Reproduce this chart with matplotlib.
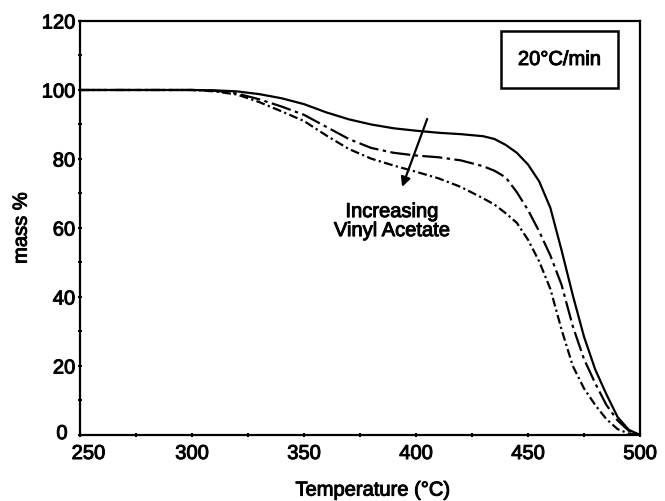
import matplotlib
matplotlib.use("Agg")
import matplotlib.pyplot as plt
from matplotlib.ticker import MultipleLocator, FuncFormatter
from matplotlib.patches import Rectangle
import matplotlib.patheffects as pe

plt.rcParams['font.family'] = ['Liberation Sans', 'DejaVu Sans']

temperature = [250, 300, 310, 320, 330, 340, 350, 360, 370, 380, 390, 400, 410, 420,
               430, 435, 440, 445, 450, 455, 460, 465, 470, 475, 480, 485, 490, 495, 500]
mass_low_va = [100, 100, 99.9, 99.6, 98.8, 97.6, 95.9, 93.5, 91.5, 90.0, 88.9, 88.2, 87.6, 87.2,
               86.6, 85.8, 84.1, 81.8, 78.4, 73.5, 65.8, 53.5, 40.5, 28.5, 19.0, 11.8, 5.2, 1.5, 0.0]
mass_mid_va = [100, 100, 99.8, 99.0, 97.3, 95.2, 92.8, 89.3, 85.8, 83.2, 81.8, 81.0, 80.5, 79.6,
               77.9, 76.6, 74.7, 70.4, 65.2, 59.0, 52.0, 43.5, 31.5, 22.0, 15.0, 8.7, 4.2, 1.2, 0.0]
mass_high_va = [100, 100, 99.6, 98.7, 96.5, 93.8, 91.0, 86.8, 82.9, 80.1, 78.1, 76.3, 74.4, 71.9,
                68.6, 66.8, 64.3, 61.5, 56.6, 50.3, 42.3, 30.5, 20.0, 13.5, 8.7, 4.6, 1.7, 0.4, 0.0]

x_min, x_max = 250, 500
y_min, y_max = 0, 120

fig = plt.figure(figsize=(6.65, 5.02), dpi=100)
ax = fig.add_axes([0.1203, 0.1315, 0.8421, 0.8247])

ax.plot(temperature, mass_low_va, color='black', lw=1.6, ls='-')
ax.plot(temperature, mass_mid_va, color='black', lw=1.6, ls=(0, (9, 2, 1.5, 2)))
ax.plot(temperature, mass_high_va, color='black', lw=1.6, ls=(0, (4, 1.5, 1, 1.5)))

ax.set_xlim(x_min, x_max)
ax.set_ylim(y_min, y_max)
ax.xaxis.set_major_locator(MultipleLocator(50))
ax.xaxis.set_minor_locator(MultipleLocator(25))
ax.yaxis.set_major_locator(MultipleLocator(20))
ax.yaxis.set_minor_locator(MultipleLocator(10))
# the corner labels (250 and 0) are drawn separately, nudged apart as in the original
ax.xaxis.set_major_formatter(FuncFormatter(lambda v, p: '' if abs(v - x_min) < 1e-9 else f'{v:g}'))
ax.yaxis.set_major_formatter(FuncFormatter(lambda v, p: '' if abs(v - y_min) < 1e-9 else f'{v:g}'))
ax.tick_params(which='both', direction='inout', length=3, width=1.5, labelsize=14.5, pad=2)
ax.tick_params(axis='x', pad=5)
for s in ax.spines.values():
    s.set_linewidth(1.6)

thick = [pe.withStroke(linewidth=0.7, foreground='black')]

for lab in ax.get_xticklabels() + ax.get_yticklabels():
    lab.set_path_effects(thick)

ax.annotate(f'{x_min:g}', xy=(x_min, 0), xycoords=('data', 'axes fraction'),
            xytext=(6, -6.5), textcoords='offset points', ha='center', va='top',
            fontsize=14.5, path_effects=thick)
ax.annotate(f'{y_min:g}', xy=(0, y_min), xycoords=('axes fraction', 'data'),
            xytext=(-9, 1), textcoords='offset points', ha='right', va='center',
            fontsize=14.5, path_effects=thick)

ax.set_xlabel('Temperature (°C)', fontsize=14.5, path_effects=thick)
ax.xaxis.set_label_coords(0.523, -0.11)
ax.set_ylabel('mass %', fontsize=14.5, labelpad=8, path_effects=thick)

ax.annotate('', xy=(393.8, 71.9), xytext=(405, 91.6),
            arrowprops=dict(arrowstyle='-|>', color='black', lw=1.6,
                            mutation_scale=14, shrinkA=0, shrinkB=0))
ax.text(389.3, 62.0, 'Increasing\nVinyl Acetate', ha='center', va='center',
        fontsize=14.5, linespacing=1.0, path_effects=thick)

ax.add_patch(Rectangle((0.751, 0.838), 0.21, 0.138, transform=ax.transAxes,
                       fill=False, lw=1.8, edgecolor='black'))
ax.text(0.856, 0.907, '20°C/min', transform=ax.transAxes, ha='center', va='center',
        fontsize=14.5, path_effects=thick)

fig.savefig('out.png', dpi=100)
